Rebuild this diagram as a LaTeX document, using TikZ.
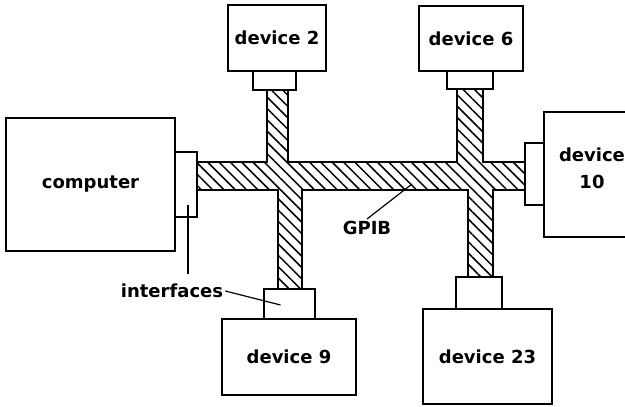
\documentclass[tikz,border=0pt]{standalone}
\usepackage{fontspec}
\setmainfont{DejaVu Sans}
\usetikzlibrary{calc,patterns.meta}
\newcommand{\labelfont}{\bfseries\fontsize{18}{21}\selectfont}

\begin{document}
\begin{tikzpicture}[x=1pt,y=-1pt,
		unit/.style 2 args={draw, line width=1.2pt, inner sep=0pt, minimum width=#1pt, minimum height=#2pt, font=\labelfont},
		port/.style 2 args={draw, line width=1.2pt, inner sep=0pt, minimum width=#1pt, minimum height=#2pt},
		cable/.style={draw, line width=1.2pt, pattern={Lines[angle=-45, distance=8pt, line width=1.5pt]}},
		lead/.style={line width=1.2pt}]
			%%%%% START %%%%%
			
			\useasboundingbox (0,0) rectangle (625,407);
			
			% units
			\node[unit={169}{133}] (comp) at (90.5,184.5) {computer};
			\node[unit={98}{66}] (d2) at (277,38) {device 2};
			\node[unit={104}{65}] (d6) at (471,38.5) {device 6};
			\node[unit={134}{76}] (d9) at (289,357) {device 9};
			\node[unit={129}{95}] (d23) at (487.5,356.5) {device 23};
			\node[unit={96}{125}] (d10) at (592,174.5) {};
			\node[font=\labelfont, align=center] (d10txt) at ([yshift=6pt]d10.center) {device\\[6pt]10};
			
			% interfaces
			\node[port={22}{65}] (ifc) at (186,184.5) {};
			\node[port={43}{19}] (if2) at (274.5,80.5) {};
			\node[port={46}{18}] (if6) at (470,80) {};
			\node[port={51}{30}] (if9) at (289.5,304) {};
			\node[port={46}{32}] (if23) at (479,293) {};
			\node[port={19}{62}] (if10) at (534.5,174) {};
			
			% bus
			\draw[cable] (197,162) -- (267,162) -- (267,90) -- (288,90) -- (288,162)
				-- (457,162) -- (457,89) -- (483,89) -- (483,162) -- (525,162)
				-- (525,190) -- (493,190) -- (493,277) -- (468,277) -- (468,190)
				-- (302,190) -- (302,289) -- (278,289) -- (278,190) -- (197,190) -- cycle;
			
			% labels
			\node[font=\labelfont, inner sep=2pt] (ifl) at (172,291) {interfaces};
			\draw[lead] (ifl.east) -- ([xshift=-9pt,yshift=-1pt]if9.center);
			\draw[lead] ([xshift=2pt,yshift=-20pt]ifc.center) -- ([xshift=2pt,yshift=8pt]ifc.center |- ifl.north);
			
			\node[font=\labelfont, inner sep=2pt] (gpib) at (367,228) {GPIB};
			\coordinate (tap) at (412,184);
			\draw[lead] (gpib.north) -- (tap);
			
			%%%%% END %%%%%
\end{tikzpicture}
\end{document}
